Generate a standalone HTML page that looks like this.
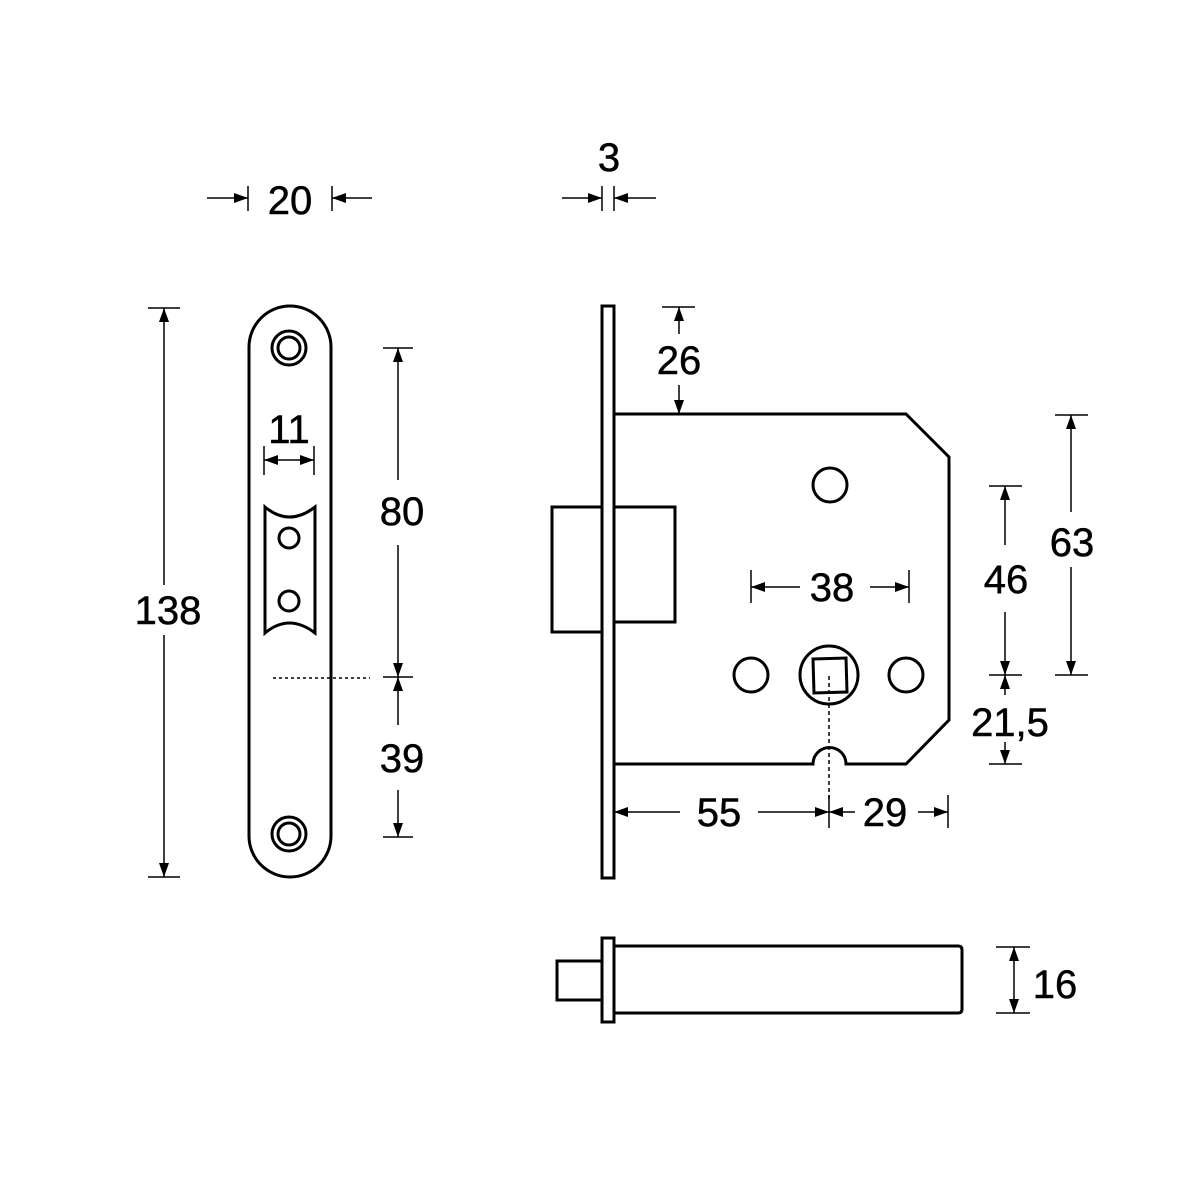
<!DOCTYPE html>
<html><head><meta charset="utf-8"><style>
html,body{margin:0;padding:0;background:#fff;}
svg{display:block;}
text{font-family:"Liberation Sans","DejaVu Sans",sans-serif;font-size:40px;fill:#000;stroke:#000;stroke-width:0.5;text-anchor:middle;}
</style></head><body>
<svg width="1200" height="1200" viewBox="0 0 1200 1200" xmlns="http://www.w3.org/2000/svg">
<defs>
<marker id="a" viewBox="0 0 14 10" refX="14" refY="5" markerWidth="14" markerHeight="10" markerUnits="userSpaceOnUse" orient="auto">
<path d="M0,0 L14,5 L0,10 Z" fill="#000"/>
</marker>
</defs>
<g fill="none" stroke="#000" stroke-width="3">
<path d="M249,347 A41,41 0 0 1 331,347 L331,836 A41,41 0 0 1 249,836 Z"/>
<circle cx="289" cy="348" r="17"/><circle cx="289" cy="348" r="11"/>
<circle cx="289" cy="834" r="17"/><circle cx="289" cy="834" r="11"/>
<path d="M265,507 Q289,527 315,507 L315,633 Q289,613 265,633 Z"/>
<circle cx="289" cy="538" r="10"/><circle cx="289" cy="601" r="10"/>
<rect x="602" y="306" width="12" height="572"/>
<path d="M614,414 L906,414 L949,457 L949,720 L906,764 L846,764 A16,16 0 0 0 813,764 L614,764"/>
<rect x="552" y="507" width="50" height="125"/>
<path d="M614,507 L675,507 L675,622 L614,622"/>
<circle cx="830" cy="485" r="17"/>
<circle cx="751" cy="675" r="17"/>
<circle cx="906" cy="675" r="17"/>
<circle cx="829" cy="675" r="29"/>
<path d="M813,659 L846,658 L847,692 L814,693 Z"/>
<rect x="557" y="961" width="45" height="39"/>
<rect x="602" y="938" width="12" height="84"/>
<path d="M614,946 L958,946 Q962,946 962,950 L962,1009 Q962,1013 958,1013 L614,1013"/>
</g>
<g fill="none" stroke="#000" stroke-width="1.5">
<line x1="273" y1="678" x2="370" y2="678" stroke-dasharray="3,3"/>
<line x1="829" y1="676" x2="829" y2="800" stroke-dasharray="4,3"/>
<line x1="148" y1="308" x2="180" y2="308"/><line x1="148" y1="877" x2="180" y2="877"/>
<line x1="164" y1="585" x2="164" y2="308" marker-end="url(#a)"/>
<line x1="164" y1="635" x2="164" y2="877" marker-end="url(#a)"/>
<line x1="383" y1="348" x2="413" y2="348"/><line x1="383" y1="677" x2="413" y2="677"/><line x1="383" y1="837" x2="413" y2="837"/>
<line x1="398" y1="480" x2="398" y2="348" marker-end="url(#a)"/>
<line x1="398" y1="545" x2="398" y2="677" marker-end="url(#a)"/>
<line x1="398" y1="725" x2="398" y2="677" marker-end="url(#a)"/>
<line x1="398" y1="790" x2="398" y2="837" marker-end="url(#a)"/>
<line x1="248" y1="186" x2="248" y2="211"/><line x1="332" y1="186" x2="332" y2="211"/>
<line x1="207" y1="198" x2="248" y2="198" marker-end="url(#a)"/>
<line x1="372" y1="198" x2="332" y2="198" marker-end="url(#a)"/>
<line x1="602" y1="186" x2="602" y2="211"/><line x1="614" y1="186" x2="614" y2="211"/>
<line x1="562" y1="198" x2="602" y2="198" marker-end="url(#a)"/>
<line x1="656" y1="198" x2="614" y2="198" marker-end="url(#a)"/>
<line x1="264" y1="446" x2="264" y2="475"/><line x1="314" y1="446" x2="314" y2="475"/>
<line x1="289" y1="460" x2="264" y2="460" marker-end="url(#a)"/>
<line x1="289" y1="460" x2="314" y2="460" marker-end="url(#a)"/>
<line x1="662" y1="307" x2="695" y2="307"/><line x1="662" y1="414" x2="695" y2="414"/>
<line x1="679" y1="334" x2="679" y2="307" marker-end="url(#a)"/>
<line x1="679" y1="385" x2="679" y2="414" marker-end="url(#a)"/>
<line x1="1055" y1="415" x2="1088" y2="415"/><line x1="1055" y1="675" x2="1088" y2="675"/>
<line x1="1071" y1="512" x2="1071" y2="415" marker-end="url(#a)"/>
<line x1="1071" y1="567" x2="1071" y2="675" marker-end="url(#a)"/>
<line x1="989" y1="486" x2="1022" y2="486"/><line x1="989" y1="675" x2="1022" y2="675"/><line x1="989" y1="764" x2="1022" y2="764"/>
<line x1="1005" y1="545" x2="1005" y2="486" marker-end="url(#a)"/>
<line x1="1005" y1="612" x2="1005" y2="675" marker-end="url(#a)"/>
<line x1="1005" y1="695" x2="1005" y2="675" marker-end="url(#a)"/>
<line x1="1005" y1="742" x2="1005" y2="764" marker-end="url(#a)"/>
<line x1="751" y1="570" x2="751" y2="603"/><line x1="909" y1="570" x2="909" y2="603"/>
<line x1="800" y1="587" x2="751" y2="587" marker-end="url(#a)"/>
<line x1="870" y1="587" x2="909" y2="587" marker-end="url(#a)"/>
<line x1="614" y1="795" x2="614" y2="828"/><line x1="829" y1="795" x2="829" y2="828"/><line x1="948" y1="795" x2="948" y2="828"/>
<line x1="680" y1="812" x2="614" y2="812" marker-end="url(#a)"/>
<line x1="758" y1="812" x2="829" y2="812" marker-end="url(#a)"/>
<line x1="855" y1="812" x2="829" y2="812" marker-end="url(#a)"/>
<line x1="918" y1="812" x2="948" y2="812" marker-end="url(#a)"/>
<line x1="996" y1="947" x2="1030" y2="947"/><line x1="996" y1="1013" x2="1030" y2="1013"/>
<line x1="1014" y1="980" x2="1014" y2="947" marker-end="url(#a)"/>
<line x1="1014" y1="980" x2="1014" y2="1013" marker-end="url(#a)"/>
</g>
<text x="168" y="624">138</text>
<text x="289" y="443">11</text>
<text x="402" y="525">80</text>
<text x="402" y="772">39</text>
<text x="290" y="214">20</text>
<text x="609" y="171">3</text>
<text x="679" y="374">26</text>
<text x="1072" y="556">63</text>
<text x="1006" y="593">46</text>
<text x="1010" y="736">21,5</text>
<text x="832" y="601">38</text>
<text x="719" y="826">55</text>
<text x="885" y="826">29</text>
<text x="1055" y="998">16</text>
</svg>
</body></html>
